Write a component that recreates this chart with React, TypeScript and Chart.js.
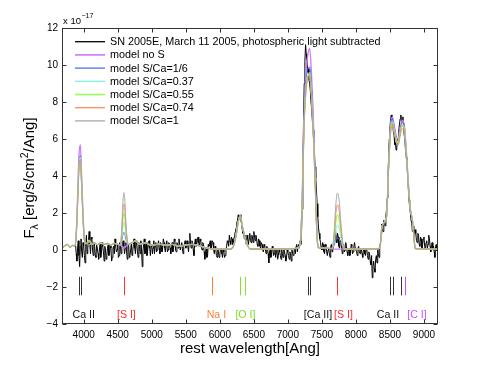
import React, { useEffect, useRef } from 'react';
import { Chart, registerables } from 'chart.js';
Chart.register(...registerables);

const W = 485;
const H = 365;
const FONT = '"Liberation Sans", Arial, Helvetica, sans-serif';

const xMin = 3681;
const xMax = 9206;
const yMin = -4;
const yMax = 12;
const xTicks = [4000, 4500, 5000, 5500, 6000, 6500, 7000, 7500, 8000, 8500, 9000];
const yTicks = [-4, -2, 0, 2, 4, 6, 8, 10, 12];

// observed spectrum (sampled every 10 Ang from 3880), one row per 100 Ang
const obsStart = 3880;
const obsStep = 10;
const obsFlux = [
  0.3, -0.2, -0.6, 0.1, 0.5, -0.3, -0.9, 0.2, 0.6, -0.1,
  -0.4, 0.4, 0.2, -0.3, -0.7, 0.3, 0.8, -0.2, 0.1, 0.5,
  1.0, 0.3, -0.2, 0.7, 0.6, 0.0, -0.3, 0.4, 0.2, -0.3,
  -0.4, 0.3, 0.1, -0.2, -0.5, 0.0, 0.3, -0.4, -0.2, 0.4,
  0.2, -0.1, -0.6, 0.2, 0.0, -0.5, -0.3, 0.1, 0.3, -0.3,
  -0.2, 0.3, 0.1, -0.6, -0.4, 0.1, 0.2, -0.2, 0.6, 0.2,
  -0.1, 0.0, 0.3, -0.4, -0.3, 0.4, 0.2, -0.2, 0.1, 0.3,
  0.5, 0.2, -0.2, 0.1, 0.4, -0.1, -0.5, 0.2, 0.3, -0.4,
  -0.3, 0.0, 0.4, -0.3, -0.1, 0.3, 0.6, 0.1, -0.2, 0.5,
  0.3, -0.1, -0.4, 0.4, 0.2, -0.2, 0.5, 0.0, -0.9, -0.1,
  0.3, 0.6, -0.2, 0.1, 0.4, -0.3, 0.0, 0.3, 0.5, 0.1,
  -0.3, 0.2, 0.3, -0.2, 0.1, 0.5, -0.2, 0.2, 0.4, -0.1,
  0.0, 0.3, 0.5, 0.1, -0.2, 0.4, 0.3, -0.1, 0.1, 0.6,
  0.4, 0.1, -0.1, 0.3, 0.5, -0.1, 0.0, 0.4, 0.3, 0.1,
  -0.2, 0.2, 0.4, -0.1, 0.1, 0.6, 0.5, 0.0, -0.1, 0.4,
  0.3, 0.1, 0.6, 0.3, 0.0, 0.2, 0.4, 0.1, -0.2, 0.2,
  0.3, 0.5, 0.1, 0.2, 0.5, 0.2, -0.1, 0.4, 0.9, 0.3,
  0.1, 0.5, 0.4, 0.0, -0.3, 0.3, 0.6, 0.2, 0.3, 0.5,
  0.7, 0.4, 0.2, 0.6, 0.5, 0.1, 0.0, 0.4, 0.3, -0.1,
  -0.5, -0.1, 0.1, -0.4, -0.3, 0.3, 0.2, 0.4, 0.5, 0.1,
  0.2, 0.5, 0.4, 0.0, -0.2, 0.2, 0.1, -0.3, -0.4, 0.1,
  -0.1, -0.4, -0.3, 0.1, 0.0, -0.2, -0.4, 0.0, -0.1, -0.4,
  -0.3, 0.0, 0.2, 0.5, 0.4, 0.2, 0.8, 0.5, 0.3, 0.7,
  0.6, 0.3, 0.4, 0.7, 0.9, 1.0, 1.2, 1.5, 1.6, 1.9,
  1.8, 1.7, 1.9, 1.6, 1.4, 1.1, 0.9, 1.0, 0.6, 0.8,
  0.5, 0.3, 0.8, 0.6, 0.3, 0.6, 0.9, 0.5, 0.4, 0.8,
  0.7, 0.4, 1.0, 0.7, 0.5, 0.8, 0.6, 0.3, 0.2, 0.6,
  0.5, 0.2, 0.1, 0.4, 0.3, 0.0, -0.1, 0.3, 0.2, 0.0,
  -0.2, 0.2, 0.1, -0.2, -0.7, -0.1, 0.0, -0.4, -0.3, 0.2,
  0.1, -0.3, -0.2, 0.1, -0.4, -0.1, 0.0, -0.5, -0.3, 0.0,
  -0.1, -0.3, -0.5, 0.0, -0.2, -0.4, 0.1, -0.1, -0.3, -0.6,
  -0.4, 0.0, -0.1, -0.3, -0.5, -0.1, -0.2, -0.6, 0.0, -0.2,
  -0.3, -0.1, 0.1, -0.2, 0.2, 0.3, -0.1, 0.2, 0.3, 0.1,
  0.5, 0.3, 0.9, 2.2, 4.5, 7.0, 9.0, 10.2, 11.1, 10.6,
  10.3, 9.6, 9.8, 9.2, 9.0, 8.6, 8.0, 7.6, 7.0, 6.5,
  5.8, 5.2, 4.5, 3.9, 3.2, 2.5, 1.8, 1.2, 0.9, 0.6,
  0.4, 0.1, 0.0, 0.4, 0.3, -0.1, -0.2, 0.3, 0.2, -0.1,
  -0.3, 0.0, 0.1, -0.2, -0.4, 0.2, 0.3, -0.1, 0.0, 0.3,
  0.5, 0.8, 1.1, 0.6, 0.4, 0.9, 0.7, 0.2, 0.1, 0.5,
  0.4, 0.1, -0.2, 0.2, 0.3, -0.1, 0.0, 0.4, 0.2, -0.1,
  -0.3, 0.0, 0.1, -0.3, -0.2, 0.3, 0.2, -0.2, -0.1, 0.2,
  0.4, 0.1, 0.0, -0.1, -0.3, 0.1, 0.2, -0.1, -0.2, 0.1,
  0.0, -0.2, -0.4, 0.0, 0.1, -0.2, -0.3, 0.1, 0.0, -0.3,
  -0.5, -0.1, -0.2, -0.6, -0.8, -0.3, -1.5, -0.9, -0.6, -1.0,
  -1.2, -0.5, -0.3, -0.7, 0.1, -0.2, -0.4, 0.3, 0.2, 0.9,
  1.4, 1.1, 1.0, 1.6, 1.5, 1.3, 1.8, 2.2, 2.8, 3.9,
  5.0, 6.0, 6.6, 7.1, 7.3, 6.8, 6.9, 6.4, 6.2, 5.7,
  5.8, 5.4, 5.5, 6.0, 5.9, 6.5, 6.8, 7.1, 7.3, 6.9,
  7.0, 7.2, 6.6, 6.2, 5.9, 5.3, 5.0, 4.6, 4.0, 3.3,
  2.7, 2.3, 2.0, 1.6, 1.5, 1.0, 1.3, 0.9, 0.7, 1.1,
  0.9, 0.5, 0.4, 0.9, 0.8, 0.3, 0.2, 0.7, 0.6, 0.1,
  0.3, 0.6, 0.7, 0.2, 0.0, 0.4, 0.5, 0.1, 0.3, 0.8,
  0.6, 0.2, -0.1, 0.3, 0.4, 0.0, 0.2, -0.1, -0.4, 0.2,
  0.3, 0.0, 0.1,
];

const modelWave = [
  3680, 3720, 3760, 3800, 3840, 3870, 3890, 3910, 3930, 3950,
  3970, 3990, 4010, 4040, 4080, 4120, 4160, 4200, 4250, 4300,
  4350, 4400, 4450, 4500, 4540, 4560, 4575, 4590, 4605, 4620,
  4640, 4660, 4700, 4760, 4820, 4900, 5000, 5100, 5200, 5300,
  5400, 5500, 5600, 5700, 5800, 5900, 6000, 6100, 6150, 6200,
  6240, 6270, 6300, 6330, 6360, 6400, 6450, 6600, 6800, 7000,
  7140, 7180, 7210, 7240, 7270, 7295, 7320, 7345, 7370, 7400,
  7430, 7460, 7550, 7650, 7680, 7705, 7730, 7755, 7780, 7810,
  7840, 7950, 8100, 8250, 8350, 8380, 8420, 8450, 8480, 8510,
  8535, 8560, 8590, 8620, 8650, 8680, 8710, 8740, 8770, 8800,
  8830, 8855, 8870, 9000, 9100, 9210,
];

const modelNoS = [
  0.10, 0.22, 0.30, 0.15, 0.25, 0.22, 0.9, 2.9, 5.1, 5.7,
  4.0, 2.0, 0.6, 0.35, 0.45, 0.3, 0.38, 0.28, 0.4, 0.3,
  0.36, 0.26, 0.36, 0.3, 0.28, 0.2, 0.15, 0.1, 0.15, 0.2,
  0.25, 0.3, 0.35, 0.5, 0.3, 0.38, 0.25, 0.32, 0.25, 0.3,
  0.2, 0.28, 0.3, 0.22, 0.12, 0.05, 0.05, 0.05, 0.05, 0.2,
  0.8, 1.5, 1.9, 1.3, 0.8, 0.3, 0.05, 0.05, 0.05, 0.05,
  0.1, 0.3, 2.8, 7.5, 9.8, 10.6, 10.9, 9.7, 7.6, 4.2,
  0.7, 0.1, 0.1, 0.08, 0.05, 0.05, 0.05, 0.05, 0.05, 0.05,
  0.05, 0.05, 0.05, 0.05, 0.1, 1.2, 1.5, 1.8, 4.6, 6.8,
  7.2, 6.8, 6.2, 6.0, 6.6, 7.0, 6.8, 5.4, 3.7, 2.2,
  1.6, 0.6, 0.08, 0.05, 0.05, 0.05,
];

const modelS016 = [
  0.10, 0.22, 0.30, 0.15, 0.25, 0.22, 0.82, 2.6, 4.6, 5.1,
  3.6, 1.8, 0.58, 0.35, 0.55, 0.3, 0.38, 0.28, 0.4, 0.3,
  0.36, 0.26, 0.36, 0.3, 0.28, 0.5, 0.81, 0.95, 0.85, 0.57,
  0.32, 0.3, 0.35, 0.5, 0.3, 0.38, 0.25, 0.32, 0.25, 0.3,
  0.2, 0.28, 0.3, 0.22, 0.12, 0.05, 0.05, 0.05, 0.05, 0.2,
  0.8, 1.5, 1.85, 1.3, 0.8, 0.3, 0.05, 0.05, 0.05, 0.05,
  0.1, 0.3, 2.7, 7.2, 9.3, 9.8, 9.9, 8.9, 7.0, 3.9,
  0.65, 0.1, 0.1, 0.08, 0.25, 0.54, 0.65, 0.56, 0.34, 0.13,
  0.05, 0.05, 0.05, 0.05, 0.1, 1.2, 1.5, 1.8, 4.5, 6.7,
  7.1, 6.7, 6.1, 5.9, 6.5, 6.9, 6.7, 5.3, 3.6, 2.2,
  1.6, 0.6, 0.08, 0.05, 0.05, 0.05,
];

const modelS037 = [
  0.10, 0.22, 0.30, 0.15, 0.25, 0.22, 0.8, 2.55, 4.5, 5.0,
  3.5, 1.75, 0.56, 0.35, 0.55, 0.3, 0.38, 0.28, 0.4, 0.3,
  0.36, 0.26, 0.36, 0.3, 0.28, 0.69, 1.25, 1.5, 1.31, 0.81,
  0.38, 0.3, 0.35, 0.5, 0.3, 0.38, 0.25, 0.32, 0.25, 0.3,
  0.2, 0.28, 0.3, 0.22, 0.12, 0.05, 0.05, 0.05, 0.05, 0.2,
  0.8, 1.5, 1.85, 1.3, 0.8, 0.3, 0.05, 0.05, 0.05, 0.05,
  0.1, 0.3, 2.6, 7.0, 9.0, 9.5, 9.6, 8.6, 6.8, 3.8,
  0.6, 0.1, 0.1, 0.08, 0.46, 1.1, 1.35, 1.16, 0.65, 0.18,
  0.05, 0.05, 0.05, 0.05, 0.1, 1.2, 1.5, 1.8, 4.5, 6.6,
  7.0, 6.6, 6.0, 5.85, 6.4, 6.8, 6.6, 5.25, 3.6, 2.2,
  1.6, 0.6, 0.08, 0.05, 0.05, 0.05,
];

const modelS055 = [
  0.10, 0.22, 0.30, 0.15, 0.25, 0.22, 0.8, 2.5, 4.45, 4.95,
  3.5, 1.75, 0.55, 0.35, 0.5, 0.3, 0.38, 0.28, 0.4, 0.3,
  0.36, 0.26, 0.36, 0.3, 0.28, 0.86, 1.65, 2.0, 1.74, 1.04,
  0.43, 0.3, 0.35, 0.5, 0.3, 0.38, 0.25, 0.32, 0.25, 0.3,
  0.2, 0.28, 0.3, 0.22, 0.12, 0.05, 0.05, 0.05, 0.05, 0.2,
  0.8, 1.5, 1.85, 1.3, 0.8, 0.3, 0.05, 0.05, 0.05, 0.05,
  0.1, 0.3, 2.6, 6.9, 8.9, 9.4, 9.5, 8.5, 6.7, 3.7,
  0.6, 0.1, 0.1, 0.08, 0.63, 1.54, 1.9, 1.63, 0.9, 0.23,
  0.05, 0.05, 0.05, 0.05, 0.1, 1.2, 1.5, 1.8, 4.4, 6.5,
  6.9, 6.5, 6.0, 5.8, 6.35, 6.75, 6.55, 5.2, 3.55, 2.2,
  1.6, 0.6, 0.08, 0.05, 0.05, 0.05,
];

const modelS074 = [
  0.10, 0.22, 0.30, 0.15, 0.25, 0.22, 0.8, 2.5, 4.4, 4.9,
  3.45, 1.72, 0.55, 0.35, 0.5, 0.3, 0.38, 0.28, 0.4, 0.3,
  0.36, 0.26, 0.36, 0.3, 0.28, 1.04, 2.05, 2.5, 2.16, 1.26,
  0.48, 0.3, 0.35, 0.5, 0.3, 0.38, 0.25, 0.32, 0.25, 0.3,
  0.2, 0.28, 0.3, 0.22, 0.12, 0.05, 0.05, 0.05, 0.05, 0.2,
  0.8, 1.5, 1.85, 1.3, 0.8, 0.3, 0.05, 0.05, 0.05, 0.05,
  0.1, 0.3, 2.6, 6.9, 8.85, 9.35, 9.45, 8.45, 6.65, 3.7,
  0.6, 0.1, 0.1, 0.08, 0.79, 1.98, 2.45, 2.09, 1.15, 0.27,
  0.05, 0.05, 0.05, 0.05, 0.1, 1.2, 1.5, 1.8, 4.4, 6.45,
  6.85, 6.45, 5.95, 5.75, 6.3, 6.7, 6.5, 5.2, 3.5, 2.2,
  1.6, 0.6, 0.08, 0.05, 0.05, 0.05,
];

const modelS100 = [
  0.10, 0.22, 0.30, 0.15, 0.25, 0.22, 0.78, 2.45, 4.35, 4.85,
  3.4, 1.7, 0.55, 0.35, 0.3, 0.3, 0.38, 0.28, 0.4, 0.3,
  0.36, 0.26, 0.36, 0.3, 0.28, 1.25, 2.53, 3.1, 2.67, 1.53,
  0.54, 0.3, 0.35, 0.5, 0.3, 0.38, 0.25, 0.32, 0.25, 0.3,
  0.2, 0.28, 0.3, 0.22, 0.12, 0.05, 0.05, 0.05, 0.05, 0.2,
  0.8, 1.5, 1.85, 1.3, 0.8, 0.3, 0.05, 0.05, 0.05, 0.05,
  0.1, 0.3, 2.5, 6.8, 8.7, 9.2, 9.3, 8.3, 6.6, 3.6,
  0.6, 0.1, 0.1, 0.08, 0.98, 2.48, 3.08, 2.63, 1.43, 0.32,
  0.05, 0.05, 0.05, 0.05, 0.1, 1.2, 1.5, 1.8, 4.3, 6.3,
  6.7, 6.3, 5.85, 5.65, 6.15, 6.55, 6.35, 5.1, 3.5, 2.2,
  1.6, 0.6, 0.08, 0.05, 0.05, 0.05,
];

const seriesLabels = [
  'SN 2005E, March 11 2005, photospheric light subtracted',
  'model no S',
  'model S/Ca=1/6',
  'model S/Ca=0.37',
  'model S/Ca=0.55',
  'model S/Ca=0.74',
  'model S/Ca=1',
];
const seriesColors = ['#000000', '#cc77ff', '#4f6ff0', '#80f0e0', '#99ff55', '#ff8c5a', '#aaaaaa'];
const seriesWidths = [1, 1.3, 1, 1, 1.3, 1, 1];

// line identification markers
const markerWave = [3932, 3962, 4589, 5890, 6300, 6364, 7291, 7324, 7725, 8498, 8542, 8662, 8727];
const markerColor = ['#333333', '#333333', '#ff3333', '#ff7f2a', '#88e030', '#88e030', '#333333', '#333333', '#ff3333', '#333333', '#333333', '#333333', '#c450ff'];
const markerTop = -1.45;
const markerBottom = -2.45;

const labelText = ['Ca II', '[S I]', 'Na I', '[O I]', '[Ca II]', '[S I]', 'Ca II', '[C I]'];
const labelWave = [4000, 4627, 5950, 6376, 7442, 7816, 8471, 8897];
const labelColor = ['#111111', '#ff2a2a', '#ff7f3a', '#77dd22', '#111111', '#ff2a2a', '#111111', '#c455ff'];
const labelY = -3.5;

const fmtY = (v: number) => (v < 0 ? '\u2212' + Math.abs(v) : String(v));

const customPlugin = {
  id: 'custom',
  afterDatasetsDraw(chart: any) {
    const { ctx, scales } = chart;
    const x = scales.x;
    const y = scales.y;
    ctx.save();
    ctx.lineWidth = 1;
    markerWave.forEach((w, i) => {
      const px = Math.round(x.getPixelForValue(w)) + 0.5;
      ctx.strokeStyle = markerColor[i];
      ctx.beginPath();
      ctx.moveTo(px, y.getPixelForValue(markerTop));
      ctx.lineTo(px, y.getPixelForValue(markerBottom));
      ctx.stroke();
    });
    ctx.font = `10.6px ${FONT}`;
    ctx.textAlign = 'center';
    ctx.textBaseline = 'middle';
    labelText.forEach((t, i) => {
      ctx.fillStyle = labelColor[i];
      ctx.fillText(t, x.getPixelForValue(labelWave[i]), y.getPixelForValue(labelY));
    });
    ctx.restore();
  },
  afterDraw(chart: any) {
    const { ctx, chartArea: a, scales } = chart;
    const x = scales.x;
    const y = scales.y;
    ctx.save();
    ctx.strokeStyle = '#333333';
    ctx.lineWidth = 1;
    const L = Math.round(a.left) + 0.5;
    const R = Math.round(a.right) - 0.5;
    const T = Math.round(a.top) + 0.5;
    const B = Math.round(a.bottom) - 0.5;
    ctx.strokeRect(L, T, R - L, B - T);
    const tl = 4;
    ctx.beginPath();
    xTicks.forEach((v) => {
      const px = Math.round(x.getPixelForValue(v)) + 0.5;
      ctx.moveTo(px, B);
      ctx.lineTo(px, B - tl);
      ctx.moveTo(px, T);
      ctx.lineTo(px, T + tl);
    });
    yTicks.forEach((v) => {
      const py = Math.round(y.getPixelForValue(v)) + 0.5;
      ctx.moveTo(L, py);
      ctx.lineTo(L + tl, py);
      ctx.moveTo(R, py);
      ctx.lineTo(R - tl, py);
    });
    ctx.stroke();

    // legend
    ctx.textAlign = 'left';
    ctx.textBaseline = 'middle';
    ctx.font = `10.8px ${FONT}`;
    seriesLabels.forEach((t, i) => {
      const ly = 41.7 + i * 13.2;
      ctx.strokeStyle = seriesColors[i];
      ctx.lineWidth = seriesWidths[i] + 0.3;
      ctx.beginPath();
      ctx.moveTo(75, ly);
      ctx.lineTo(105, ly);
      ctx.stroke();
      ctx.fillStyle = '#000';
      ctx.fillText(t, 110, ly + 0.5);
    });

    // exponent
    ctx.fillStyle = '#000';
    ctx.textBaseline = 'alphabetic';
    ctx.font = `9.5px ${FONT}`;
    ctx.fillText('x 10', 63, 23.5);
    const w10 = ctx.measureText('x 10').width;
    ctx.font = `7px ${FONT}`;
    ctx.fillText('\u221217', 63 + w10 + 0.5, 18);

    // x title
    ctx.font = `15px ${FONT}`;
    ctx.textAlign = 'center';
    ctx.fillText('rest wavelength[Ang]', (a.left + a.right) / 2, 353);

    // y title
    const parts = [
      { t: 'F', s: 15, dy: 0 },
      { t: '\u03bb', s: 10.5, dy: 4 },
      { t: ' [erg/s/cm', s: 15, dy: 0 },
      { t: '2', s: 10.5, dy: -6.5 },
      { t: '/Ang]', s: 15, dy: 0 },
    ];
    let total = 0;
    const widths = parts.map((p) => {
      ctx.font = `${p.s}px ${FONT}`;
      const w = ctx.measureText(p.t).width;
      total += w;
      return w;
    });
    ctx.translate(34, 178);
    ctx.rotate(-Math.PI / 2);
    ctx.textAlign = 'left';
    let cx = -total / 2;
    parts.forEach((p, i) => {
      ctx.font = `${p.s}px ${FONT}`;
      ctx.fillText(p.t, cx, p.dy);
      cx += widths[i];
    });
    ctx.restore();
  },
};

export default function App() {
  const ref = useRef<HTMLCanvasElement | null>(null);
  useEffect(() => {
    if (!ref.current) return;
    const obsData = obsFlux.map((v, i) => ({ x: obsStart + i * obsStep, y: v }));
    const models = [modelNoS, modelS016, modelS037, modelS055, modelS074, modelS100];
    const modelSets = models.map((arr, k) => ({
      label: seriesLabels[k + 1],
      data: arr.map((v, i) => ({ x: modelWave[i], y: v })),
      borderColor: seriesColors[k + 1],
      borderWidth: seriesWidths[k + 1],
      pointRadius: 0,
      cubicInterpolationMode: 'monotone' as const,
      fill: false,
      order: 5 - k,
    }));
    const chart = new Chart(ref.current, {
      type: 'line',
      data: {
        datasets: [
          {
            label: seriesLabels[0],
            data: obsData,
            borderColor: seriesColors[0],
            borderWidth: seriesWidths[0],
            pointRadius: 0,
            tension: 0,
            fill: false,
            order: 6,
          },
          ...modelSets,
        ],
      },
      options: {
        responsive: false,
        animation: false,
        devicePixelRatio: 1,
        parsing: false as any,
        normalized: true,
        layout: { padding: { left: 0, top: 28, right: 47, bottom: 0 } },
        plugins: { legend: { display: false }, tooltip: { enabled: false } },
        scales: {
          x: {
            type: 'linear',
            min: xMin,
            max: xMax,
            afterFit: (s: any) => {
              s.height = 41;
            },
            afterBuildTicks: (s: any) => {
              s.ticks = xTicks.map((v) => ({ value: v }));
            },
            grid: { display: false, drawTicks: false },
            border: { display: false },
            ticks: {
              padding: 5,
              autoSkip: false,
              maxRotation: 0,
              color: '#000',
              font: { family: FONT, size: 10 },
              callback: (v: any) => String(v),
            },
          },
          y: {
            type: 'linear',
            min: yMin,
            max: yMax,
            afterFit: (s: any) => {
              s.width = 62;
            },
            afterBuildTicks: (s: any) => {
              s.ticks = yTicks.map((v) => ({ value: v }));
            },
            grid: { display: false, drawTicks: false },
            border: { display: false },
            ticks: {
              padding: 4,
              color: '#000',
              font: { family: FONT, size: 10 },
              callback: (v: any) => fmtY(Number(v)),
            },
          },
        },
      },
      plugins: [customPlugin],
    });
    return () => chart.destroy();
  }, []);
  return (
    <div style={{ position: 'absolute', left: 0, top: 0, width: W, height: H, background: '#fff' }}>
      <canvas ref={ref} width={W} height={H} style={{ width: W, height: H, display: 'block' }} />
    </div>
  );
}
